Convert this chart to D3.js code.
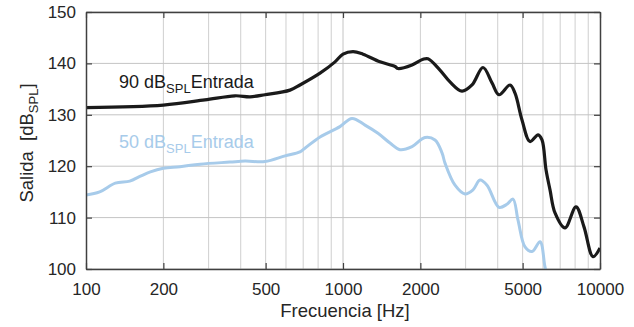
<!DOCTYPE html>
<html>
<head>
<meta charset="utf-8">
<script src="https://cdn.jsdelivr.net/npm/d3@7"></script>
<style>
  body { margin: 0; background: #fff; }
  text { font-family: "Liberation Sans", Arial, Helvetica, sans-serif; fill: #262626; }
</style>
</head>
<body>
<svg width="634" height="327"></svg>
<script>
// frequency (Hz) / output (dB SPL)
const freq90 = [100, 200, 290, 380, 435, 497, 622, 680, 814, 931, 1000, 1094, 1196, 1393, 1594, 1637, 1856, 2048, 2141,
    2384, 2608, 2904, 3177, 3505, 3800, 4046, 4465, 4670, 4972, 5341, 5741, 5948, 6165, 6390, 6683, 7307, 8064, 8664, 9393, 10000];
const out90 = [131.4, 131.9, 132.9, 133.7, 133.5, 133.9, 134.8, 135.8, 138.1, 140.3, 141.8, 142.3, 141.8, 140.3, 139.4, 139.0, 139.7, 140.8, 140.9,
    138.7, 136.4, 134.6, 135.8, 139.2, 136.2, 133.9, 135.8, 134.2, 129.0, 124.8, 126.1, 125.1, 119.3, 115.4, 110.9, 108.0, 112.1, 108.2, 102.4, 104.1];

const freq50 = [100, 113, 130, 148, 162, 178, 200, 232, 278, 363, 416, 497, 595, 680, 711, 814, 973, 1084, 1218, 1368,
    1524, 1667, 1856, 2085, 2280, 2428, 2494, 2728, 2983, 3205, 3413, 3634, 4046, 4346, 4587, 4797, 5108, 5438, 5844, 6109, 6277];
const out50 = [114.4, 115.0, 116.7, 117.1, 118.0, 118.9, 119.6, 119.9, 120.4, 120.8, 121.0, 120.9, 122.0, 122.8, 123.5, 125.7, 127.7, 129.3, 128.0, 126.4,
    124.5, 123.2, 123.8, 125.6, 125.1, 122.6, 120.6, 116.3, 114.6, 115.4, 117.3, 116.3, 112.0, 112.6, 113.6, 109.5, 104.3, 103.4, 105.3, 100.4, 98.0];

const xTicks = [100, 200, 500, 1000, 2000, 5000, 10000];
const yTicks = [100, 110, 120, 130, 140, 150];

const width = 634;
const height = 327;
const margin = { top: 12, right: 34, bottom: 58, left: 86 };
const w = width - margin.left - margin.right;
const h = height - margin.top - margin.bottom;

const svg = d3.select('svg')
    .append('g')
    .attr('transform', `translate(${margin.left},${margin.top})`);

const x = d3.scaleLog().domain([100, 10000]).range([0, w]);
const y = d3.scaleLinear().domain([100, 150]).range([h, 0]);

// minor log grid
const minor = [];
[100, 1000].forEach(d => { for (let k = 2; k <= 9; k++) minor.push(d * k); });

svg.append('g')
    .selectAll('line')
    .data(minor)
    .enter().append('line')
    .attr('x1', d => x(d)).attr('x2', d => x(d))
    .attr('y1', 0).attr('y2', h)
    .attr('stroke', '#cfcfcf')
    .attr('stroke-width', 1);

svg.append('g')
    .selectAll('line')
    .data(yTicks)
    .enter().append('line')
    .attr('x1', 0).attr('x2', w)
    .attr('y1', d => y(d)).attr('y2', d => y(d))
    .attr('stroke', '#c4c4c4')
    .attr('stroke-width', 1);

svg.append('g')
    .selectAll('line')
    .data([1000])
    .enter().append('line')
    .attr('x1', d => x(d)).attr('x2', d => x(d))
    .attr('y1', 0).attr('y2', h)
    .attr('stroke', '#c4c4c4');

// curves
const line = d3.line()
    .x(d => x(d[0]))
    .y(d => y(d[1]))
    .curve(d3.curveCatmullRom.alpha(0.5));

svg.append('clipPath').attr('id', 'clip')
    .append('rect').attr('width', w).attr('height', h);

svg.append('path')
    .datum(d3.zip(freq50, out50))
    .attr('clip-path', 'url(#clip)')
    .attr('fill', 'none')
    .attr('stroke', '#a7cbea')
    .attr('stroke-width', 3)
    .attr('d', line);

svg.append('path')
    .datum(d3.zip(freq90, out90))
    .attr('clip-path', 'url(#clip)')
    .attr('fill', 'none')
    .attr('stroke', '#1a1a1a')
    .attr('stroke-width', 3.2)
    .attr('d', line);

// axes
const fmt = d => String(d);
svg.append('g')
    .attr('class', 'x-axis')
    .attr('transform', `translate(0,${h})`)
    .call(d3.axisBottom(x).tickValues(xTicks).tickFormat(fmt).tickSizeInner(-6).tickSizeOuter(0).tickPadding(14));

svg.append('g')
    .attr('class', 'x-axis-top')
    .call(d3.axisTop(x).tickValues(xTicks).tickFormat('').tickSizeInner(-6).tickSizeOuter(0));

svg.append('g')
    .attr('class', 'y-axis')
    .call(d3.axisLeft(y).tickValues(yTicks).tickSizeInner(-6).tickSizeOuter(0).tickPadding(10));

svg.append('g')
    .attr('class', 'y-axis-right')
    .attr('transform', `translate(${w},0)`)
    .call(d3.axisRight(y).tickValues(yTicks).tickFormat('').tickSizeInner(-6).tickSizeOuter(0));

svg.selectAll('.domain').attr('stroke', '#404040').attr('stroke-width', 1.5);
svg.selectAll('.tick line').attr('stroke', '#404040').attr('stroke-width', 1.2);
svg.selectAll('.tick text').style('font-size', '17px').attr('fill', '#262626')
    .style('font-family', '"Liberation Sans", Arial, sans-serif');

// labels
function subLabel(tx, ty, a, b, c, color) {
    const t = svg.append('text')
        .attr('x', tx).attr('y', ty)
        .style('font-size', '18px')
        .attr('fill', color)
        .style('fill', color);
    t.append('tspan').text(a);
    t.append('tspan').attr('dy', 5).style('font-size', '13px').text(b);
    t.append('tspan').attr('dy', -5).text(c);
    return t;
}
subLabel(33, 76, '90 dB', 'SPL', 'Entrada', '#1a1a1a');
subLabel(33, 136, '50 dB', 'SPL', 'Entrada', '#a7cbea');

svg.append('text')
    .attr('text-anchor', 'middle')
    .attr('x', w / 2 + 2)
    .attr('y', h + 48)
    .style('font-size', '18.5px')
    .text('Frecuencia [Hz]');

const yl = svg.append('text')
    .attr('text-anchor', 'middle')
    .attr('transform', `translate(-53, ${131}) rotate(-90)`)
    .style('font-size', '18.5px');
yl.append('tspan').text('Salida\u00a0\u00a0[dB');
yl.append('tspan').attr('dy', 5).style('font-size', '13px').text('SPL');
yl.append('tspan').attr('dy', -5).text(']');
</script>
</body>
</html>
